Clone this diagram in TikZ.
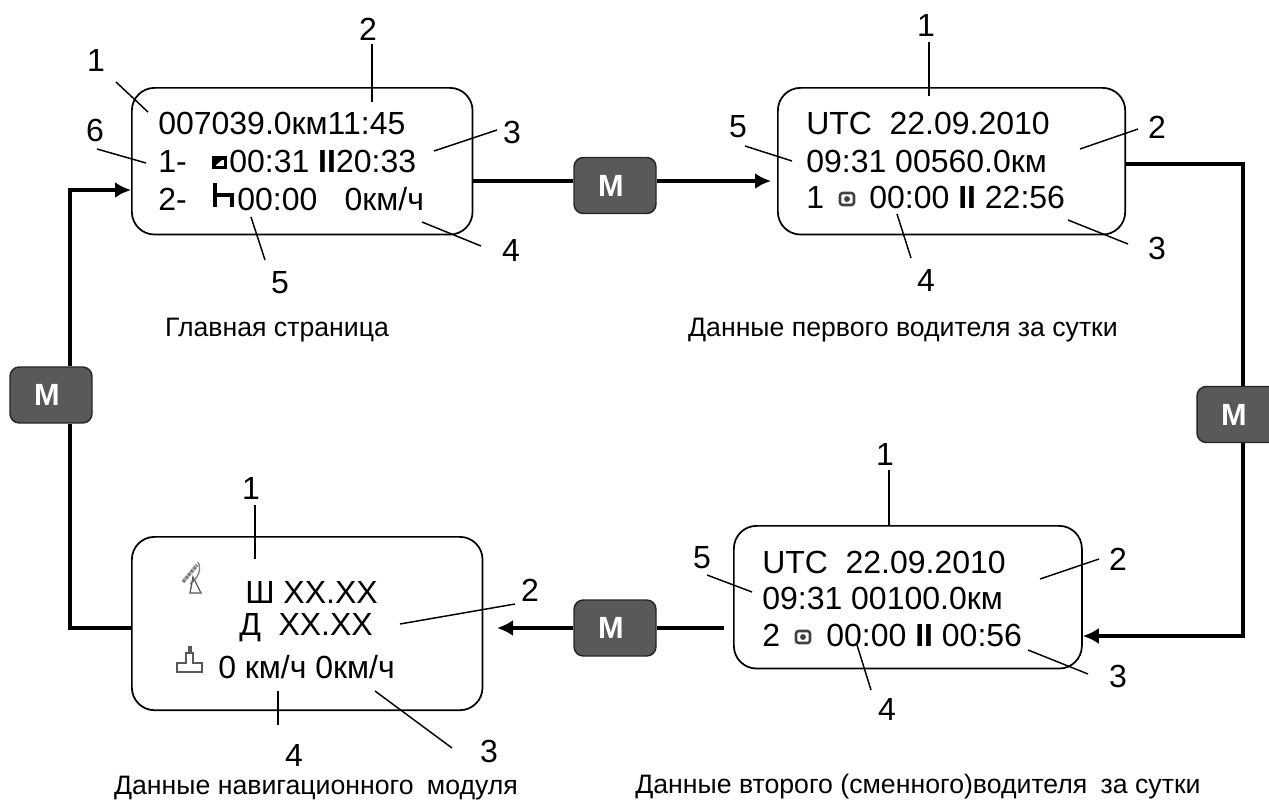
\documentclass[tikz,border=0pt]{standalone}
\usepackage{fontspec}
\setmainfont{Liberation Sans}
\usetikzlibrary{arrows.meta, positioning}
\tikzset{>={Latex[length=12pt,width=12pt]},
         x=0.75pt, y=-0.75pt,
         screen/.style = {draw, line width=1.3pt, rounded corners=17pt, anchor=north west, inner sep=0pt},
         mbtn/.style = {fill=btngray, draw=black!85, line width=1.1pt, rounded corners=7pt, minimum width=61.5pt, minimum height=42pt,
                        inner sep=0pt, text=white, font=\fontsize{23}{25}\selectfont\bfseries},
         link/.style = {line width=3pt},
         row/.style = {anchor=base west, inner sep=0pt, font=\fontsize{24}{26}\selectfont},
         num/.style = {inner sep=0pt, font=\fontsize{24}{26}\selectfont},
         note/.style = {inner sep=0pt, font=\fontsize{20}{22}\selectfont},
         lead/.style = {line width=1.1pt}}
\definecolor{btngray}{HTML}{595959}
\newcommand{\mlabel}{\raisebox{-3pt}{M\hspace{6pt}}}
\begin{document}
\begin{tikzpicture}
        \useasboundingbox (0,0) rectangle (1269,803);

        % screens
        \node[screen, minimum width=255.5pt, minimum height=110pt] (main)  at (131,87)  {};
        \node[screen, minimum width=260.5pt, minimum height=110pt] (first) at (777,87)  {};
        \node[screen, minimum width=261pt, minimum height=107pt] (second) at (733,525) {};
        \node[screen, minimum width=263pt, minimum height=130pt] (nav)   at (131,536) {};

        % buttons
        \node[mbtn] (m1) at (615,185.5) {\mlabel};
        \node[mbtn] (m2) at (51,395)  {\mlabel};
        \node[mbtn] (m3) at (1238,414.5) {\mlabel};
        \node[mbtn] (m4) at (615,628) {\mlabel};

        % main page
        \node[row] (a1) at (158,134) {007039.0км11:45};
        \node[row] (a2) at (158,172) {1-};
        \node[row] (a3) at (229,172) {00:31 \textbf{II}20:33};
        \node[row] (a4) at (158,210) {2-};
        \node[row] (a5) at (237,210) {00:00\hspace{0.85em}0км/ч};
        \fill (212,156) rectangle (227,169);
        \fill[white] (216,160) rectangle (224,166);
        \fill (216,160) -- (222,160) -- (216,165) -- cycle;
        \draw[line width=3.2pt] (215,183) -- (215,207) (215,195) -- (232,195) -- (232,207);

        % first driver
        \node[row] (b1) at (806,134) {UTC\hspace{0.55em}22.09.2010};
        \node[row] (b2) at (806,172) {09:31 00560.0км};
        \node[row] (b3) at (806,208) {1};
        \node[row] (b4) at (869,208) {00:00 \textbf{II} 22:56};
        \draw[line width=1.9pt, black!75, rounded corners=2pt] (840,193) rectangle (854,205);
        \fill[black!75] (847,199) circle (2.2pt);

        % second driver
        \node[row] (c1) at (762,573) {UTC\hspace{0.55em}22.09.2010};
        \node[row] (c2) at (762,609) {09:31 00100.0км};
        \node[row] (c3) at (762,646) {2};
        \node[row] (c4) at (826,646) {00:00 \textbf{II} 00:56};
        \draw[line width=1.9pt, black!75, rounded corners=2pt] (796,631) rectangle (810,643);
        \fill[black!75] (803,637) circle (2.2pt);

        % navigation module
        \node[row] (d1) at (245,603) {Ш XX.XX};
        \node[row] (d2) at (239,635) {Д\hspace{0.55em}XX.XX};
        \node[row] (d3) at (218,678) {0 км/ч 0км/ч};
        \draw[gray, line width=2.6pt, dash pattern=on 2.5pt off 0.6pt] (183,582) -- (197,565);
        \draw[gray, line width=1pt] (190,584) .. controls (198,578) and (202,570) .. (198,562);
        \draw[gray!70!black, line width=1pt] (193,577) -- (190,593) -- (201,593) -- cycle;
        \draw[gray!70!black, line width=0.8pt] (177,672) -- (177,663) -- (186,663) -- (186,653) -- (189,653) -- (189,647) -- (191,647) -- (191,653) -- (193,653) -- (193,663) -- (202,663) -- (202,672) -- cycle;

        % numbers of the main page
        \node[num] (n1) at (96,60)  {1};
        \node[num] (n2) at (368,29) {2};
        \node[num] (n3) at (512,132) {3};
        \node[num] (n4) at (511,250) {4};
        \node[num] (n5) at (280,283) {5};
        \node[num] (n6) at (95,130) {6};
        \coordinate (t1) at (148,112);
        \coordinate (t2) at (372,102);
        \coordinate (t3) at (434,151);
        \coordinate (t4) at (422,222);
        \coordinate (t5) at (251,217);
        \coordinate (t6) at (146,163);
        \draw[lead] (116,82) -- (t1);
        \draw[lead] (372,44) -- (t2);
        \draw[lead] (497,130) -- (t3);
        \draw[lead] (481,246) -- (t4);
        \draw[lead] (265,260) -- (t5);
        \draw[lead] (97,149) -- (t6);

        % numbers of the first driver
        \node[num] (p1) at (926,25)  {1};
        \node[num] (p2) at (1157,127) {2};
        \node[num] (p3) at (1157,248) {3};
        \node[num] (p4) at (926,280) {4};
        \node[num] (p5) at (738,127) {5};
        \draw[lead] (929,42) -- (929,96);
        \draw[lead] (1138,129) -- (1080,149);
        \draw[lead] (1128,244) -- (1068,220);
        \draw[lead] (911,258) -- (897,214);
        \draw[lead] (745,146) -- (792,161);

        % numbers of the second driver
        \node[num] (s1) at (885,454) {1};
        \node[num] (s2) at (1118,559) {2};
        \node[num] (s3) at (1118,676) {3};
        \node[num] (s4) at (887,709) {4};
        \node[num] (s5) at (702,558) {5};
        \draw[lead] (889,470) -- (889,525);
        \draw[lead] (1099,559) -- (1040,579);
        \draw[lead] (1088,674) -- (1028,650);
        \draw[lead] (871,690) -- (857,645);
        \draw[lead] (707,575) -- (752,592);

        % numbers of the navigation module
        \node[num] (r1) at (251,488) {1};
        \node[num] (r2) at (530,590) {2};
        \node[num] (r3) at (489,751) {3};
        \node[num] (r4) at (294,755) {4};
        \draw[lead] (255,505) -- (255,559);
        \draw[lead] (515,604) -- (400,624);
        \draw[lead] (452,748) -- (375,691);
        \draw[lead] (278,691) -- (278,725);

        % captions
        \node[note] (capa) at (277,330) {Главная страница};
        \node[note] (capb) at (903,330) {Данные первого водителя за сутки};
        \node[note] (capc) at (918,787) {Данные второго (сменного)водителя\hspace{0.5em}за сутки};
        \node[note] (capd) at (316,788) {Данные навигационного\hspace{0.5em}модуля};

        % connectors
        \draw[link] (main.east |- 0,181) -- (m1.west |- 0,181);
        \draw[link, ->, shorten >=4.5pt] (m1.east |- 0,181) -- (first.west |- 0,181);
        \draw[link] (first.east |- 0,164) -| (1243,0 |- m3.north);
        \draw[link, ->] (1243,0 |- m3.south) |- (second.east |- 0,636);
        \coordinate (gap) at (724,628);
        \draw[link] (gap) -- (m4);
        \draw[link, ->] (m4) -- (497,628);
        \draw[link] (nav.west |- 0,628) -| (70,0 |- m2.south);
        \draw[link, ->] (70,0 |- m2.north) |- (main.west |- 0,190);
\end{tikzpicture}
\end{document}
